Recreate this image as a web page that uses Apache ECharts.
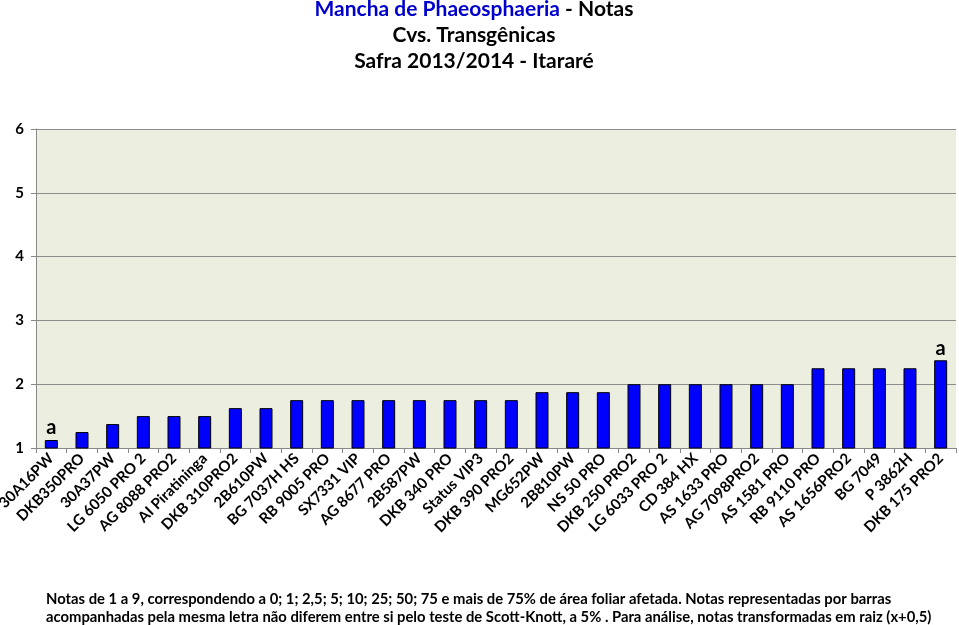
<!DOCTYPE html>
<html><head><meta charset="utf-8">
<script src="https://cdn.jsdelivr.net/npm/echarts@6/dist/echarts.min.js"></script>
<style>html,body{margin:0;padding:0;background:#fff}#c{width:959px;height:625px}</style>
</head><body><div id="c"></div>
<script>
var categories = ["30A16PW","DKB350PRO","30A37PW","LG 6050 PRO 2","AG 8088 PRO2","AI Piratininga","DKB 310PRO2","2B610PW","BG 7037H HS","RB 9005 PRO","SX7331 VIP","AG 8677 PRO","2B587PW","DKB 340 PRO","Status VIP3","DKB 390 PRO2","MG652PW","2B810PW","NS 50 PRO","DKB 250 PRO2","LG 6033 PRO 2","CD 384 HX","AS 1633 PRO","AG 7098PRO2","AS 1581 PRO","RB 9110 PRO","AS 1656PRO2","BG 7049","P 3862H","DKB 175 PRO2"];
var values = [1.125,1.25,1.375,1.5,1.5,1.5,1.625,1.625,1.75,1.75,1.75,1.75,1.75,1.75,1.75,1.75,1.875,1.875,1.875,2,2,2,2,2,2,2.25,2.25,2.25,2.25,2.375];
var letters = ["a","","","","","","","","","","","","","","","","","","","","","","","","","","","","","a"];
var yTicks = [1,2,3,4,5,6];
var footnote = ["Notas de 1 a 9, correspondendo a 0; 1; 2,5; 5; 10; 25; 50; 75 e mais de 75% de área foliar afetada. Notas representadas por barras",
"acompanhadas pela mesma letra não diferem entre si pelo teste de Scott-Knott, a 5% . Para análise, notas transformadas em raiz (x+0,5)"];
var FONT = "Lato, 'Open Sans', sans-serif";
var chart = echarts.init(document.getElementById('c'));
chart.setOption({
  animation:false,
  backgroundColor:'#fff',
  title:[{
    text:'{b|Mancha de Phaeosphaeria}{k| - Notas}\n{k|Cvs. Transgênicas}\n{k|Safra 2013/2014 - Itararé}',
    left:469, textAlign:'center', top:-9,
    textStyle:{lineHeight:26, rich:{
      b:{color:'#0000CC',fontSize:21,fontFamily:FONT,fontWeight:'bold',lineHeight:26},
      k:{color:'#000',fontSize:21,fontFamily:FONT,fontWeight:'bold',lineHeight:26}
    }}
  },{
    text: footnote.join('\n'),
    left:41, top:585,
    textStyle:{color:'#000',fontSize:14.8,fontFamily:FONT,fontWeight:'bold',lineHeight:18}
  }],
  grid:{left:36,right:3,top:129,bottom:177,containLabel:false,outerBoundsMode:'none',show:true,backgroundColor:'#ECEEDF',borderWidth:0},
  xAxis:{type:'category',data:categories,
    axisLine:{lineStyle:{color:'#888',width:1}},
    axisTick:{show:true,length:5,lineStyle:{color:'#888'}},
    axisLabel:{interval:0,rotate:45,color:'#000',fontSize:15,fontWeight:'bold',fontFamily:FONT,margin:8}
  },
  yAxis:{type:'value',min:1,max:6,interval:1,
    axisLine:{show:true,lineStyle:{color:'#888'}},
    axisTick:{show:true,length:5,lineStyle:{color:'#888'}},
    splitLine:{lineStyle:{color:'#8c8c8c',width:1}},
    axisLabel:{color:'#000',fontSize:15,fontWeight:'bold',fontFamily:FONT,margin:12}
  },
  series:[{type:'bar',data:values.map(function(v,i){return {value:v,label:{show:!!letters[i],formatter:letters[i]}};}),
    barWidth:13,
    itemStyle:{color:'#0000FF',borderColor:'#000',borderWidth:1},
    label:{position:'top',color:'#000',fontSize:20,fontWeight:'bold',fontFamily:FONT,distance:2}
  }]
});
</script></body></html>
